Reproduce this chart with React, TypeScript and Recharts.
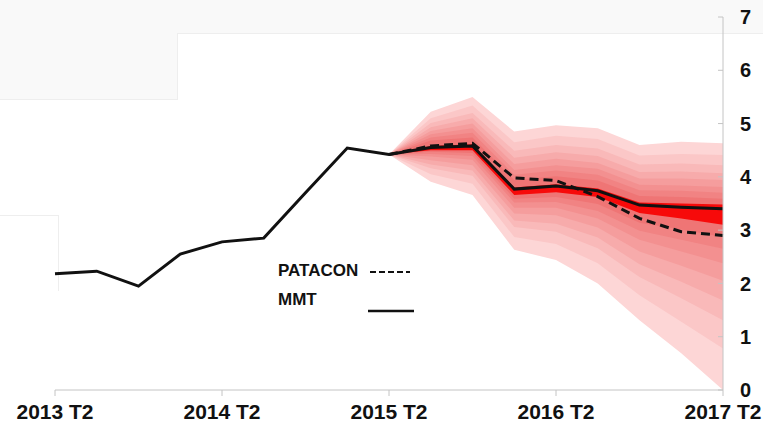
import React from 'react';
import { ComposedChart, Area, Line, XAxis, YAxis } from 'recharts';

const quarters = [
  '2013 T2', '2013 T3', '2013 T4', '2014 T1', '2014 T2', '2014 T3', '2014 T4', '2015 T1', '2015 T2',
  '2015 T3', '2015 T4', '2016 T1', '2016 T2', '2016 T3', '2016 T4', '2017 T1', '2017 T2',
];
const xTicks = ['2013 T2', '2014 T2', '2015 T2', '2016 T2', '2017 T2'];
const yTicks = [0, 1, 2, 3, 4, 5, 6, 7];

// central projection (MMT) and the alternative (PATACON)
const mmt = [2.18, 2.23, 1.95, 2.55, 2.78, 2.85, 3.7, 4.54, 4.42, 4.55, 4.58, 3.77, 3.83, 3.74, 3.47, 3.43, 3.4];
const patacon = [null, null, null, null, null, null, null, null, 4.42, 4.58, 4.63, 3.98, 3.93, 3.63, 3.22, 2.97, 2.9];

// fan bands from 2015 T2 onwards, outermost first
const fanStart = 8;
const upper1 = [4.42, 5.22, 5.5, 4.85, 4.97, 4.91, 4.6, 4.66, 4.63];
const upper2 = [4.42, 5.1, 5.34, 4.65, 4.77, 4.71, 4.4, 4.43, 4.41];
const upper3 = [4.42, 5.01, 5.2, 4.49, 4.6, 4.53, 4.23, 4.25, 4.22];
const upper4 = [4.42, 4.93, 5.1, 4.36, 4.46, 4.39, 4.09, 4.1, 4.07];
const upper5 = [4.42, 4.86, 5.0, 4.24, 4.34, 4.26, 3.97, 3.97, 3.94];
const upper6 = [4.42, 4.8, 4.91, 4.13, 4.22, 4.15, 3.85, 3.84, 3.81];
const upper7 = [4.42, 4.74, 4.83, 4.04, 4.12, 4.04, 3.75, 3.74, 3.7];
const upper8 = [4.42, 4.68, 4.74, 3.94, 4.01, 3.93, 3.64, 3.62, 3.59];
const upperCore = [4.42, 4.58, 4.61, 3.8, 3.86, 3.78, 3.52, 3.5, 3.48];

const lower1 = [4.42, 3.91, 3.66, 2.63, 2.44, 2.0, 1.31, 0.69, 0.0];
const lower2 = [4.42, 4.05, 3.87, 2.87, 2.74, 2.38, 1.78, 1.28, 0.78];
const lower3 = [4.42, 4.16, 4.02, 3.06, 2.97, 2.66, 2.12, 1.72, 1.31];
const lower4 = [4.42, 4.23, 4.12, 3.18, 3.12, 2.86, 2.36, 2.03, 1.68];
const lower5 = [4.42, 4.31, 4.22, 3.31, 3.28, 3.05, 2.6, 2.33, 2.05];
const lower6 = [4.42, 4.38, 4.32, 3.42, 3.42, 3.22, 2.82, 2.6, 2.38];
const lower7 = [4.42, 4.43, 4.39, 3.52, 3.53, 3.36, 2.99, 2.82, 2.65];
const lower8 = [4.42, 4.47, 4.45, 3.59, 3.62, 3.49, 3.14, 3.01, 2.87];
const lowerCore = [4.42, 4.5, 4.5, 3.66, 3.71, 3.62, 3.32, 3.22, 3.1];

const bands = [
  { key: 'b1', lo: lower1, hi: upper1, color: '#fdd6d6' },
  { key: 'b2', lo: lower2, hi: upper2, color: '#fbc7c7' },
  { key: 'b3', lo: lower3, hi: upper3, color: '#f9b9b9' },
  { key: 'b4', lo: lower4, hi: upper4, color: '#f7abab' },
  { key: 'b5', lo: lower5, hi: upper5, color: '#f59d9d' },
  { key: 'b6', lo: lower6, hi: upper6, color: '#f39090' },
  { key: 'b7', lo: lower7, hi: upper7, color: '#f18383' },
  { key: 'b8', lo: lower8, hi: upper8, color: '#ef7575' },
  { key: 'core', lo: lowerCore, hi: upperCore, color: '#f70a0a' },
];

const data = quarters.map((q, i) => {
  const row: any = { q, mmt: mmt[i], patacon: patacon[i] };
  bands.forEach((b) => {
    const j = i - fanStart;
    row[b.key] = j >= 0 ? [b.lo[j], b.hi[j]] : null;
  });
  return row;
});

const font = '"Liberation Sans", Arial, sans-serif';

const YTick = (props: any) => {
  const { x, y, payload } = props;
  return (
    <g>
      <line x1={x - 5} x2={x} y1={y} y2={y} stroke="#c4c4c4" strokeWidth={1} />
      <text x={x + 17} y={y} dy="0.36em" fontSize={20} fontWeight="bold" fill="#111" fontFamily={font}>
        {payload.value}
      </text>
    </g>
  );
};

export default function App() {
  return (
    <div style={{ position: 'absolute', left: 0, top: 0, width: 763, height: 429, background: '#fff', overflow: 'hidden' }}>
      {/* faint slide remnants in the background */}
      <div style={{ position: 'absolute', left: 0, top: 0, width: 763, height: 33, background: '#f9f9f9', borderBottom: '1px solid #eeeeee' }} />
      <div style={{ position: 'absolute', left: 0, top: 33, width: 177, height: 66, background: '#f9f9f9', borderRight: '1px solid #eeeeee', borderBottom: '1px solid #eeeeee' }} />
      <div style={{ position: 'absolute', left: 0, top: 215, width: 58, height: 75, borderTop: '1px solid #eeeeee', borderRight: '1px solid #eeeeee' }} />
      <div style={{ position: 'absolute', left: 0, top: 0 }}>
        <ComposedChart width={763} height={429} data={data} margin={{ top: 17, right: 4, left: 55, bottom: 9 }}>
          <XAxis
            dataKey="q"
            scale="point"
            ticks={xTicks}
            interval={0}
            height={30}
            tickSize={6}
            tickMargin={8}
            stroke="#c4c4c4"
            tick={{ fill: '#111', fontSize: 21, fontWeight: 'bold', fontFamily: font }}
          />
          <YAxis
            orientation="right"
            domain={[0, 7]}
            ticks={yTicks}
            width={36}
            tickSize={0}
            tickMargin={0}
            stroke="#c4c4c4"
            tick={<YTick />}
            allowDataOverflow
          />
          {bands.map((b) => (
            <Area
              key={b.key}
              type="linear"
              dataKey={b.key}
              stroke="none"
              fill={b.color}
              fillOpacity={1}
              isAnimationActive={false}
              activeDot={false}
            />
          ))}
          <Line
            type="linear"
            dataKey="patacon"
            stroke="#111"
            strokeWidth={3}
            strokeDasharray="9 5"
            dot={false}
            isAnimationActive={false}
          />
          <Line type="linear" dataKey="mmt" stroke="#111" strokeWidth={3} dot={false} isAnimationActive={false} />
        </ComposedChart>
      </div>
      <div style={{ position: 'absolute', left: 278, top: 261, fontFamily: font, fontWeight: 'bold', fontSize: 17, color: '#111' }}>
        <div style={{ position: 'absolute', left: 0, top: 0, whiteSpace: 'nowrap' }}>PATACON</div>
        <svg style={{ position: 'absolute', left: 92, top: 1 }} width={40} height={20}>
          <line x1={0} x2={40} y1={10} y2={10} stroke="#111" strokeWidth={2} strokeDasharray="6 3" />
        </svg>
        <div style={{ position: 'absolute', left: 0, top: 29, whiteSpace: 'nowrap' }}>MMT</div>
        <svg style={{ position: 'absolute', left: 90, top: 40 }} width={46} height={20}>
          <line x1={0} x2={46} y1={10} y2={10} stroke="#111" strokeWidth={2.5} />
        </svg>
      </div>
    </div>
  );
}
